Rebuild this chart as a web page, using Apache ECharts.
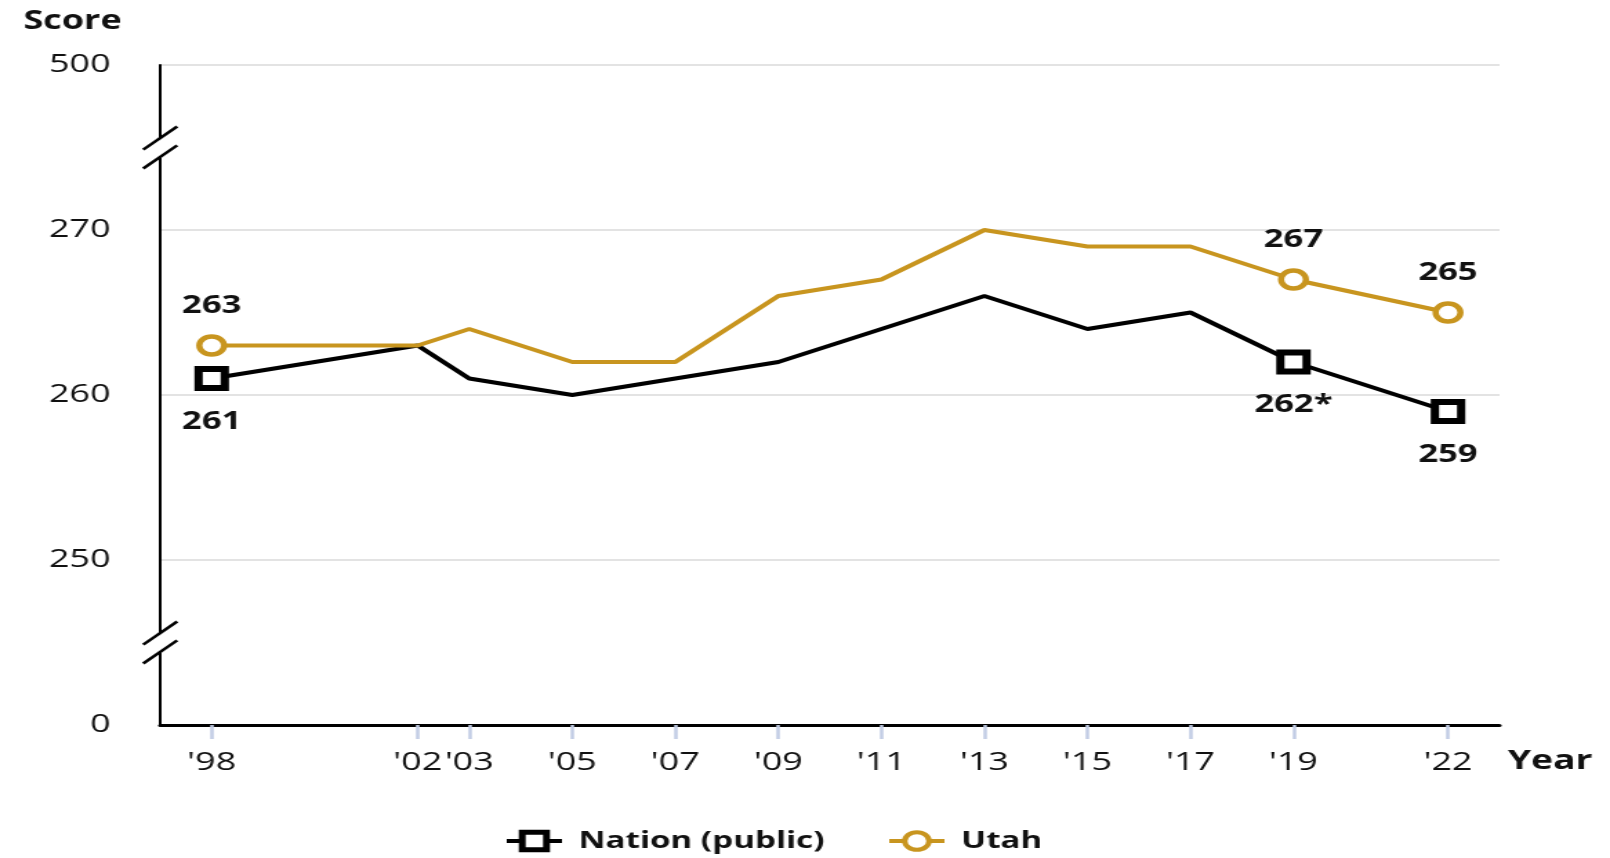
<!DOCTYPE html>
<html>
<head>
<meta charset="utf-8">
<title>Score by year</title>
<script src="https://cdn.jsdelivr.net/npm/echarts@6/dist/echarts.min.js"></script>
<style>
  html, body { margin: 0; padding: 0; background: #fff; overflow: hidden; }
  /* the reference is stretched sideways, so draw narrow and scale out */
  #chart { width: 1166px; height: 858px; transform: scaleX(1.380789); transform-origin: 0 0; }
</style>
</head>
<body>
<div id="chart"></div>
<script>
const years = [1998, 2002, 2003, 2005, 2007, 2009, 2011, 2013, 2015, 2017, 2019, 2022]
const nation = [261, 263, 261, 260, 261, 262, 264, 266, 264, 265, 262, 259]
const utah = [263, 263, 264, 262, 262, 266, 267, 270, 269, 269, 267, 265]
// years that get a marker and a value label
const markedYears = [1998, 2019, 2022]
const nationLabels = ['261', '262*', '259']
const utahLabels = ['263', '267', '265']
// y axis is drawn broken: 240 stands for 0, 280 for 500
const yTickLabels = { 240: '0', 250: '250', 260: '260', 270: '270', 280: '500' }
const breakValues = [275, 245]

const gold = '#c8951f'
const font = '"Open Sans", "DejaVu Sans", sans-serif'

const buildData = (values, labels) => years.map((y, i) => {
  const k = markedYears.indexOf(y)
  if (k < 0) return { value: [y, values[i]], symbol: 'none', label: { show: false } }
  return { value: [y, values[i]], label: { show: true, formatter: labels[k] } }
})

const labelStyle = {
  fontFamily: font,
  fontSize: 25,
  fontWeight: 'bold',
  color: '#111'
}

const chart = echarts.init(document.getElementById('chart'))

chart.setOption({
  animation: false,
  textStyle: { fontFamily: font },
  grid: { left: 116, right: 80, top: 65, bottom: 133 },
  legend: {
    left: 360,
    top: 824,
    itemWidth: 40,
    itemHeight: 22,
    itemGap: 45,
    data: [
      { name: 'Nation (public)', itemStyle: { borderWidth: 5 }, lineStyle: { width: 4 } },
      { name: 'Utah', itemStyle: { borderWidth: 4 }, lineStyle: { width: 4 } }
    ],
    textStyle: { fontFamily: font, fontSize: 24, fontWeight: 'bold', color: '#111', padding: [0, 0, 0, 7] }
  },
  xAxis: {
    type: 'value',
    min: 1997,
    max: 2023,
    name: 'Year',
    nameLocation: 'end',
    nameGap: 6,
    nameTextStyle: { fontFamily: font, fontSize: 27, fontWeight: 'bold', color: '#111', verticalAlign: 'top', lineHeight: 72 },
    axisLine: { lineStyle: { color: '#000', width: 3 } },
    axisTick: { customValues: years, length: 14, lineStyle: { color: '#c2cde5', width: 2.5 } },
    axisLabel: {
      customValues: years,
      margin: 25,
      fontSize: 26,
      color: '#111',
      formatter: (v) => "'" + String(v).slice(2)
    },
    splitLine: { show: false }
  },
  yAxis: {
    type: 'value',
    min: 240,
    max: 280,
    interval: 10,
    name: 'Score',
    nameLocation: 'end',
    nameGap: 30,
    nameTextStyle: { fontFamily: font, fontSize: 26, fontWeight: 'bold', color: '#111', align: 'right', padding: [0, 28, 0, 0] },
    axisLine: { show: true, lineStyle: { color: '#000', width: 2 } },
    axisTick: { show: false },
    axisLabel: {
      margin: 36,
      fontSize: 26,
      color: '#111',
      formatter: (v) => yTickLabels[v] || ''
    },
    splitLine: { lineStyle: { color: '#e3e3e3', width: 2 } }
  },
  series: [
    {
      name: 'Nation (public)',
      type: 'line',
      data: buildData(nation, nationLabels),
      symbol: 'rect',
      symbolSize: 19,
      itemStyle: { color: '#fff', borderColor: '#000', borderWidth: 6 },
      lineStyle: { color: '#000', width: 4 },
      label: Object.assign({ position: 'bottom', distance: 18 }, labelStyle),
      emphasis: { disabled: true },
      z: 2
    },
    {
      name: 'Utah',
      type: 'line',
      data: buildData(utah, utahLabels),
      symbol: 'circle',
      symbolSize: 18,
      itemStyle: { color: '#fff', borderColor: gold, borderWidth: 4.5 },
      lineStyle: { color: gold, width: 4 },
      label: Object.assign({ position: 'top', distance: 16 }, labelStyle),
      emphasis: { disabled: true },
      z: 3
    }
  ]
})

// axis break marks, placed through the y scale
const axisX = chart.convertToPixel({ xAxisIndex: 0 }, 1997)
const graphics = []
breakValues.forEach((v) => {
  const cy = chart.convertToPixel({ yAxisIndex: 0 }, v)
  graphics.push({
    type: 'rect',
    shape: { x: axisX - 4, y: cy - 9.4, width: 8, height: 18.8 },
    style: { fill: '#fff' },
    z: 100
  })
  ;[-9.4, 9.4].forEach((d) => {
    graphics.push({
      type: 'line',
      shape: { x1: axisX - 12.3, y1: cy + d + 11.6, x2: axisX + 12.3, y2: cy + d - 11.6 },
      style: { stroke: '#000', lineWidth: 2.5 },
      z: 101
    })
  })
})
chart.setOption({ graphic: graphics })
</script>
</body>
</html>
